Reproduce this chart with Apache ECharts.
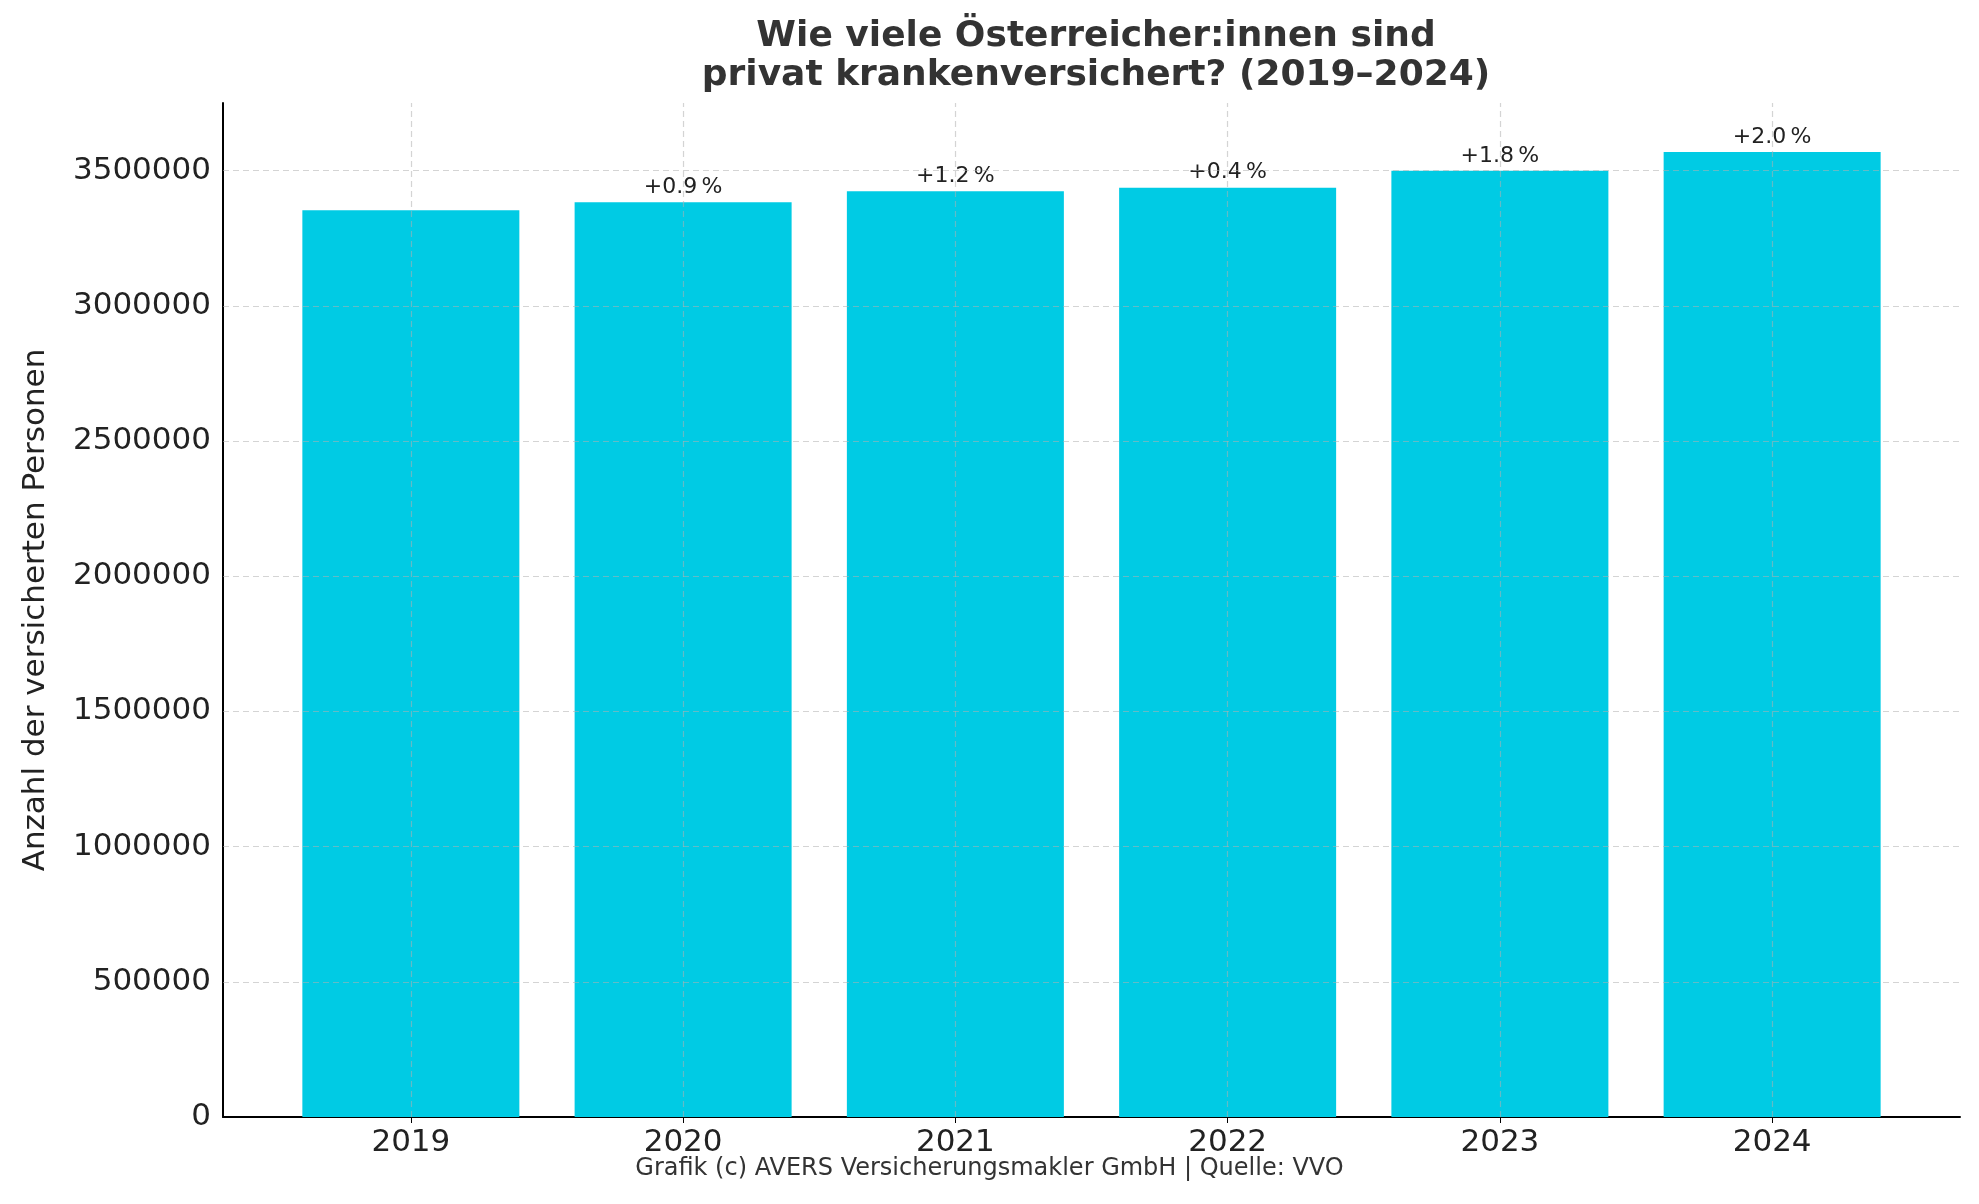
<!DOCTYPE html>
<html><head><meta charset="utf-8">
<script src="https://cdn.jsdelivr.net/npm/echarts@6/dist/echarts.min.js"></script>
<style>html,body{margin:0;background:#fff}#c{width:1979px;height:1204px}</style>
</head><body><div id="c"></div>
<script>
const years = ['2019','2020','2021','2022','2023','2024'];
const insured = [3353000, 3383000, 3424000, 3437000, 3499000, 3569000];
const changeLabels = ['', '+0.9\u202f%', '+1.2\u202f%', '+0.4\u202f%', '+1.8\u202f%', '+2.0\u202f%'];
const yTicks = [0, 500000, 1000000, 1500000, 2000000, 2500000, 3000000, 3500000];

const font = 'DejaVu Sans';
const idx = years.map((y, i) => i);
const gridStyle = {color: 'rgba(176,176,176,0.55)', type: [6, 4], width: 1.2};
const chart = echarts.init(document.getElementById('c'));
chart.setOption({
  animation: false,
  textStyle: {fontFamily: font},
  title: {
    text: 'Wie viele Österreicher:innen sind\nprivat krankenversichert? (2019–2024)',
    left: 1091, textAlign: 'center', top: 12,
    textStyle: {fontSize: 36, fontWeight: 'bold', color: '#333', lineHeight: 39, fontFamily: font}
  },
  graphic: [{type: 'text', left: 'center', top: 1157,
    style: {text: 'Grafik (c) AVERS Versicherungsmakler GmbH | Quelle: VVO', fontSize: 24, fill: '#333', fontFamily: font}}],
  grid: {left: 223, right: 19, top: 103, bottom: 87},
  xAxis: {
    type: 'value', min: -0.69, max: 5.69,
    axisLine: {lineStyle: {color: '#000', width: 2}},
    axisTick: {show: true, customValues: idx, length: 6, lineStyle: {color: '#000'}},
    axisLabel: {fontSize: 31, color: '#222', margin: 10, customValues: idx,
      formatter: v => years[Math.round(v)]},
    splitLine: {show: false}
  },
  yAxis: {
    type: 'value', min: 0, max: 3750000, interval: 250000,
    name: 'Anzahl der versicherten Personen', nameLocation: 'middle', nameGap: 172,
    nameTextStyle: {fontSize: 31, color: '#222'},
    axisLine: {show: true, onZero: false, lineStyle: {color: '#000', width: 2}},
    axisTick: {show: false},
    axisLabel: {fontSize: 31, color: '#222', margin: 12, showMaxLabel: false,
      formatter: v => (v % 500000 === 0 ? String(v) : '')},
    splitLine: {show: false}
  },
  series: [{
    type: 'bar', data: insured.map((v, i) => [i, v]), barWidth: 217,
    itemStyle: {color: '#00cbe4'},
    label: {show: true, position: 'top', distance: 4, fontSize: 22, color: '#222',
      formatter: p => changeLabels[p.dataIndex]},
    markLine: {
      silent: true, symbol: 'none', label: {show: false},
      lineStyle: gridStyle,
      data: idx.map(i => ({xAxis: i})).concat(yTicks.slice(1).map(v => ({yAxis: v})))
    }
  }]
});
</script></body></html>
